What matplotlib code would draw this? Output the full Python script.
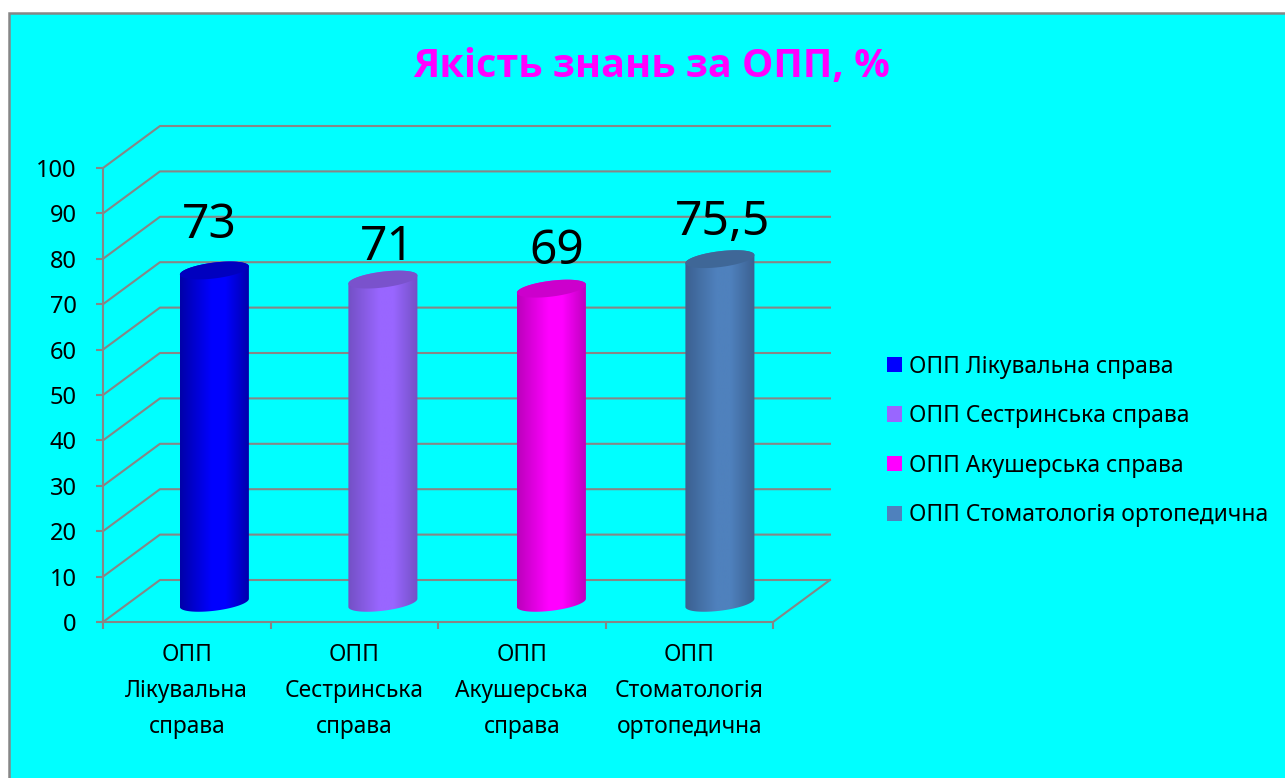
#!/usr/bin/env python3
"""Якість знань за ОПП: 3D-looking cylinder column chart."""

import numpy as np
import matplotlib

matplotlib.use("Agg")
import matplotlib.pyplot as plt
from matplotlib.colors import LinearSegmentedColormap
from matplotlib.patches import PathPatch, Polygon, Rectangle
from matplotlib.path import Path

TITLE = "Якість знань за ОПП, %"
CATEGORIES = [
    "ОПП\nЛікувальна\nсправа",
    "ОПП\nСестринська\nсправа",
    "ОПП\nАкушерська\nсправа",
    "ОПП\nСтоматологія\nортопедична",
]
LEGEND_LABELS = [
    "ОПП Лікувальна справа",
    "ОПП Сестринська справа",
    "ОПП Акушерська справа",
    "ОПП Стоматологія ортопедична",
]
VALUES = [73, 71, 69, 75.5]
VALUE_LABELS = ["73", "71", "69", "75,5"]
YTICKS = list(range(0, 101, 10))

MAIN_COLORS = ["#0000ff", "#9966ff", "#ff00ff", "#4f81bd"]
EDGE_COLORS = ["#0000a8", "#7350c4", "#bb00bb", "#3b6090"]
TOP_COLORS = ["#0000bf", "#7a52cc", "#cc00cc", "#3f6797"]

CYAN = "#00ffff"
GREY = "#868686"
FONT = "Noto Sans"
TITLE_FONT = "Open Sans"

W, H = 1285, 778
# depth of the floor in data units (x in categories, y in percent)
DEPTH_X = 0.34
DEPTH_Y = 9.25
BAR_HALF = 0.206
BAR_STEP = 1.006
BAR_SKEW = 0.9
BAR_B = 1.75
# the data labels were dragged by hand in the original, pixel nudges from the bar
LABEL_NUDGE = [(1, 7), (11, -6), (13, -1), (12, -2)]


def cylinder_paths(cx, base, top):
    t = np.linspace(0, np.pi, 60)
    xs = cx + BAR_HALF * np.cos(t)
    top_y = top + BAR_B * np.sin(t) + BAR_SKEW * np.cos(t)
    low_y = base - BAR_B * np.sin(t) + BAR_SKEW * np.cos(t)
    side = np.vstack([np.c_[xs, top_y], np.c_[xs[::-1], low_y[::-1]]])
    t2 = np.linspace(0, 2 * np.pi, 120)
    cap = np.c_[
        cx + BAR_HALF * np.cos(t2),
        top + BAR_B * np.sin(t2) + BAR_SKEW * np.cos(t2),
    ]
    return side, cap


def main():
    fig = plt.figure(figsize=(W / 100, H / 100), dpi=100, facecolor="white")
    fig.add_artist(
        Rectangle(
            (9 / W, -0.1), 1.1, 0.1 + (H - 13) / H,
            transform=fig.transFigure, facecolor=CYAN, edgecolor=GREY, linewidth=1.8,
            zorder=-1,
        )
    )

    # axes box is the front plane of the 3D chart: x 103-773 px, y 622-168 px
    ax = fig.add_axes([103 / W, 1 - 622 / H, 670 / W, 454 / H])
    ax.patch.set_visible(False)
    for side in ("top", "right"):
        ax.spines[side].set_visible(False)
    for side in ("left", "bottom"):
        ax.spines[side].set_color(GREY)
        ax.spines[side].set_linewidth(1.5)

    # grid on the side wall and back wall, then the floor edge
    for v in YTICKS:
        ax.plot([0, DEPTH_X, 4 + DEPTH_X], [v, v + DEPTH_Y, v + DEPTH_Y],
                color=GREY, lw=1.5, clip_on=False, zorder=1)
    ax.plot([4, 4 + DEPTH_X], [0, DEPTH_Y], color=GREY, lw=1.5, clip_on=False, zorder=1)

    base = DEPTH_Y / 2 - 0.4
    for i, value in enumerate(VALUES):
        cx = 0.665 + i * BAR_STEP
        top = base + value + 0.2
        side_xy, cap_xy = cylinder_paths(cx, base, top)
        cmap = LinearSegmentedColormap.from_list(
            "cyl",
            [(0, EDGE_COLORS[i]), (0.45, MAIN_COLORS[i]), (0.65, MAIN_COLORS[i]), (1, EDGE_COLORS[i])],
        )
        img = ax.imshow(
            np.linspace(0, 1, 256).reshape(1, -1),
            extent=(cx - BAR_HALF, cx + BAR_HALF, base - 3, top + 3),
            aspect="auto", cmap=cmap, zorder=3, interpolation="bilinear",
        )
        img.set_clip_path(PathPatch(Path(side_xy), transform=ax.transData))
        ax.add_patch(Polygon(cap_xy, closed=True, facecolor=TOP_COLORS[i],
                             edgecolor="none", zorder=4, clip_on=False))
        nudge_x, nudge_y = LABEL_NUDGE[i]
        ax.annotate(VALUE_LABELS[i], (i + 0.63, top + 3.3),
                    xytext=(nudge_x * 0.72, nudge_y * 0.72), textcoords="offset points",
                    ha="center", va="bottom", fontsize=34.5, family=FONT, color="black",
                    zorder=5, annotation_clip=False)
        ax.text(i + 0.5, -4.7, CATEGORIES[i], ha="center", va="top", fontsize=16.4,
                family=FONT, color="black", linespacing=1.65, clip_on=False)

    ax.set_xlim(0, 4)
    ax.set_ylim(0, 100)
    ax.set_yticks(YTICKS)
    ax.set_xticks(range(5))
    ax.set_xticklabels([])
    ax.tick_params(axis="both", color=GREY, width=1.5, length=5)
    ax.tick_params(axis="y", labelsize=17, pad=14)
    for lab in ax.get_yticklabels():
        lab.set_fontfamily(FONT)

    fig.text(652 / W, 1 - 66 / H, TITLE, ha="center", va="center", fontsize=28.5,
             fontweight="bold", family=TITLE_FONT, color="#ff00ff")

    # legend
    handles = [Rectangle((0, 0), 1, 1, facecolor=c, edgecolor="none") for c in MAIN_COLORS]
    fig.legend(
        handles, LEGEND_LABELS,
        loc="center left", bbox_to_anchor=(887 / W, 1 - 441 / H),
        frameon=False, handlelength=0.66, handleheight=0.66,
        handletextpad=0.3, labelspacing=1.12, borderpad=0, borderaxespad=0,
        prop={"family": FONT, "size": 16.45},
    )

    fig.savefig("out.png", dpi=100, facecolor="white")


if __name__ == "__main__":
    main()
